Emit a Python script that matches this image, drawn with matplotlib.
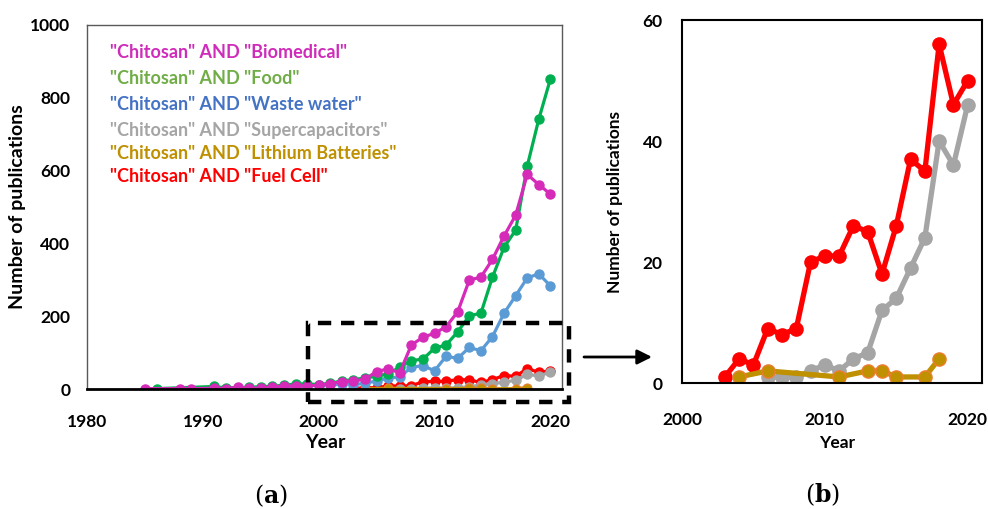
import numpy as np
import matplotlib.pyplot as plt

plt.rcParams['font.family'] = ['Lato', 'DejaVu Sans']
plt.rcParams['font.weight'] = 'bold'
plt.rcParams['mathtext.fontset'] = 'dejavuserif'

# data
bio_years = [1985, 1988, 1989] + list(range(1991, 2021))
bio_vals = [1, 1, 1, 2, 1, 5, 2, 3, 5, 8, 8, 9, 10, 15, 20, 22, 27, 48, 55, 45,
            121, 142, 153, 171, 212, 299, 307, 356, 420, 477, 589, 561, 535]
food_years = [1986] + list(range(1991, 2021))
food_vals = [1, 7, 3, 4, 5, 6, 8, 10, 14, 14, 12, 16, 22, 26, 30, 35, 42, 60,
             78, 82, 112, 121, 157, 201, 208, 307, 389, 436, 612, 741, 851]
water_years = list(range(1993, 2021))
water_vals = [2, 3, 2, 4, 5, 6, 8, 12, 10, 14, 12, 16, 22, 30, 33, 60, 64, 50,
              90, 84, 114, 105, 144, 208, 256, 305, 316, 283]
fuel_years = list(range(2003, 2021))
fuel_vals = [1, 4, 3, 9, 8, 9, 20, 21, 21, 26, 25, 18, 26, 37, 35, 56, 46, 50]
super_years = list(range(2006, 2021))
super_vals = [1, 1, 1, 2, 3, 2, 4, 5, 12, 14, 19, 24, 40, 36, 46]
li_years = [2004, 2006, 2011, 2013, 2014, 2015, 2017, 2018]
li_vals = [1, 2, 1, 2, 2, 1, 1, 4]

labels = ['"Chitosan" AND "Biomedical"', '"Chitosan" AND "Food"',
          '"Chitosan" AND "Waste water"', '"Chitosan" AND "Supercapacitors"',
          '"Chitosan" AND "Lithium Batteries"', '"Chitosan" AND "Fuel Cell"']
text_colors = ['#CF2CBA', '#70AD47', '#4472C4', '#A5A5A5', '#BF9000', '#FF0000']
label_y = [0.923, 0.853, 0.780, 0.709, 0.647, 0.583]

c_bio = '#D62AB8'
c_food = '#00B050'
c_water = '#5B9BD5'
c_super = '#A5A5A5'
c_li = '#BF9000'
c_fuel = '#FF0000'

W, H = 988, 509
fig = plt.figure(figsize=(W / 100, H / 100), dpi=100)

def px_axes(l, t, r, b):
    return fig.add_axes([l / W, 1 - b / H, (r - l) / W, (b - t) / H])

# ---- panel (a)
ax = px_axes(87, 24.7, 562, 389)
ms, lw = 6.5, 2.3
ax.plot(fuel_years, fuel_vals, '-o', color=c_fuel, lw=lw, ms=ms)
ax.plot(super_years, super_vals, '-o', color=c_super, lw=lw, ms=ms)
ax.plot(li_years, li_vals, '-o', color=c_li, mec='#ED7D31', mew=0.8, lw=lw, ms=ms)
ax.plot(water_years, water_vals, '-o', color=c_water, lw=lw, ms=ms)
ax.plot(food_years, food_vals, '-o', color=c_food, lw=lw, ms=ms)
ax.plot(bio_years, bio_vals, '-o', color=c_bio, lw=lw, ms=ms)
ax.set_xlim(1980, 2021)
ax.set_ylim(0, 1000)
ax.set_xticks([1980, 1990, 2000, 2010, 2020])
ax.set_yticks([0, 200, 400, 600, 800, 1000])
ax.tick_params(length=0, labelsize=12.5)
ax.tick_params(axis='x', pad=18)
ax.tick_params(axis='y', pad=12)
for s in ['left', 'top', 'right']:
    ax.spines[s].set_color('#595959')
    ax.spines[s].set_linewidth(1.0)
ax.spines['bottom'].set_linewidth(2.0)
ax.spines['bottom'].set_color('black')

for lab, col, yy in zip(labels, text_colors, label_y):
    ax.text(0.048, yy, lab, color=col, fontsize=13, fontweight='bold',
            transform=ax.transAxes, va='center', ha='left')

# dashed zoom box
ax.add_patch(plt.Rectangle((1999.1, -36), 22.5, 218, fill=False, ls=(0, (3, 2.2)),
                           lw=3.2, ec='black', clip_on=False, zorder=5))

# ---- panel (b)
bx = px_axes(682, 20, 982, 383)
ms2, lw2 = 9.5, 3.8
bx.plot(fuel_years, fuel_vals, '-o', color=c_fuel, lw=lw2, ms=ms2)
bx.plot(super_years, super_vals, '-o', color=c_super, lw=lw2, ms=ms2)
bx.plot(li_years, li_vals, '-o', color=c_li, mec='#ED7D31', mew=1.0, lw=lw2, ms=ms2)
bx.set_xlim(2000, 2021)
bx.set_ylim(0, 60)
bx.set_xticks([2000, 2010, 2020])
bx.set_yticks([0, 20, 40, 60])
bx.tick_params(length=0, labelsize=12.5)
bx.tick_params(axis='x', pad=21)
bx.tick_params(axis='y', pad=14)
for s in bx.spines.values():
    s.set_linewidth(1.5)
    s.set_color('black')

# arrow between panels
bx.annotate('', xy=(652 / W, 1 - 357 / H), xytext=(584 / W, 1 - 357 / H),
            xycoords='figure fraction', textcoords='figure fraction',
            arrowprops=dict(arrowstyle='-|>', color='black', lw=2,
                            mutation_scale=22, shrinkA=0, shrinkB=0))

# axis titles and captions
fig.text(325 / W, 1 - 443 / H, 'Year', ha='center', va='center', fontsize=14)
fig.text(837 / W, 1 - 443 / H, 'Year', ha='center', va='center', fontsize=12.5)
fig.text(18 / W, 1 - 207 / H, 'Number of publications', rotation=90,
         ha='center', va='center', fontsize=14)
fig.text(615 / W, 1 - 202 / H, 'Number of publications', rotation=90,
         ha='center', va='center', fontsize=12.5)
fig.text(271 / W, 1 - 496 / H, r'($\mathbf{a}$)', ha='center', va='center',
         fontsize=17, family='DejaVu Serif', fontweight='normal')
fig.text(823 / W, 1 - 495 / H, r'($\mathbf{b}$)', ha='center', va='center',
         fontsize=17, family='DejaVu Serif', fontweight='normal')

fig.savefig('out.png', dpi=100)
